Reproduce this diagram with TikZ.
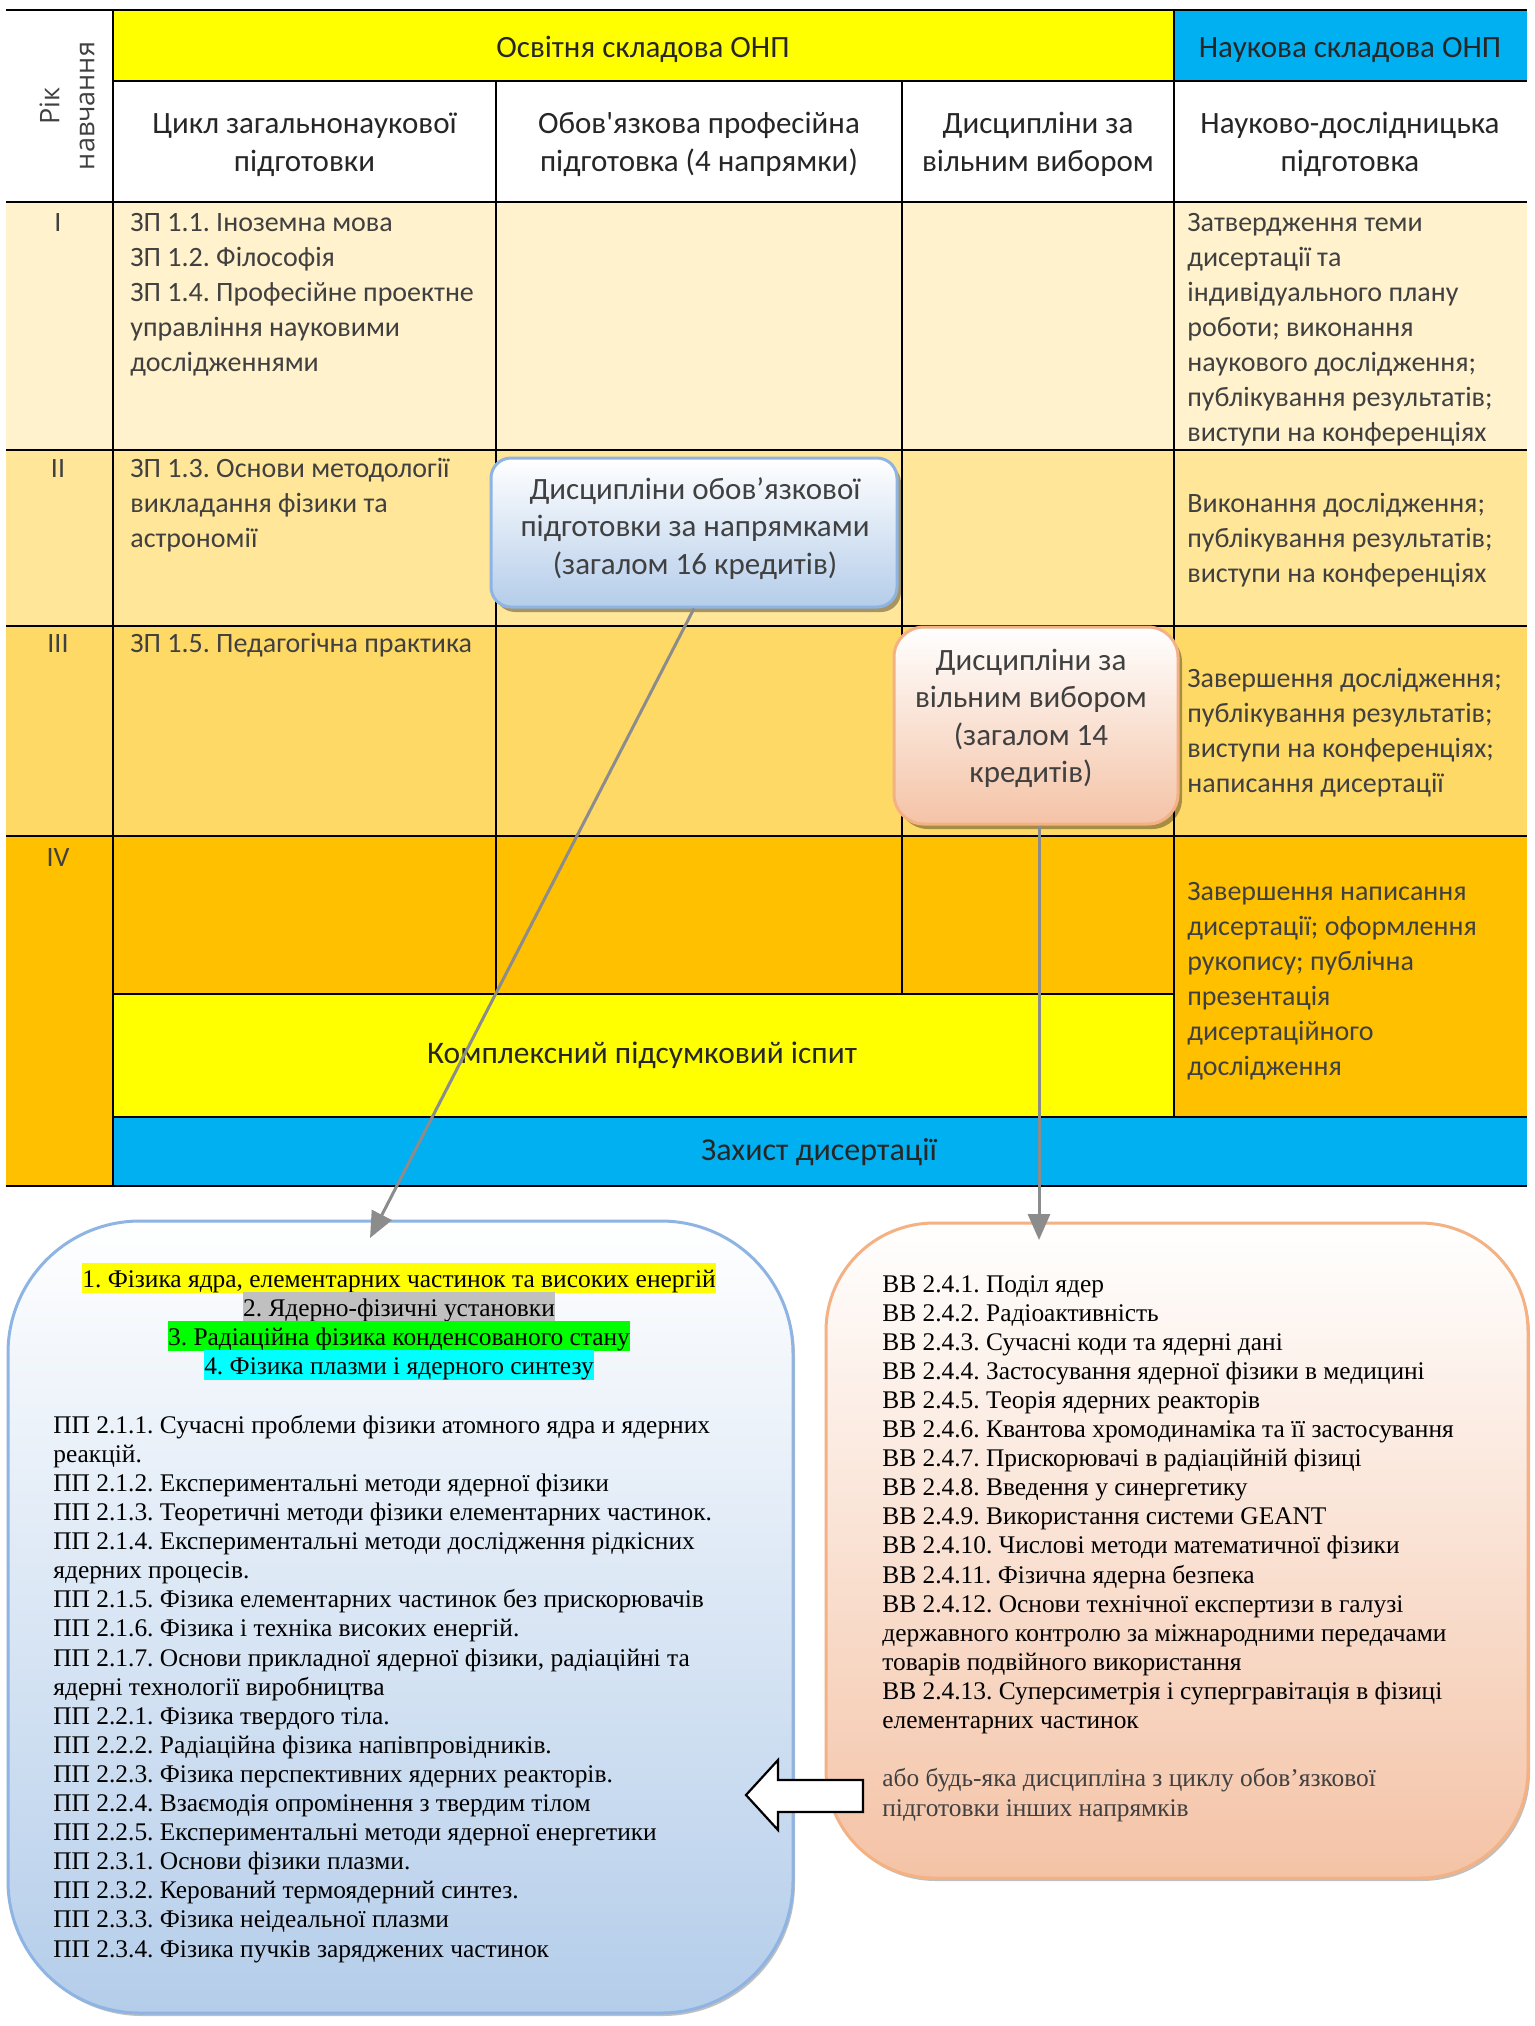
\documentclass[tikz,border=0pt]{standalone}
\usepackage{fontspec}
\setmainfont{Liberation Serif}
\newfontfamily\calfont{Carlito}[Ligatures=TeXOff]
\newfontfamily\osfont{Open Sans}
\usetikzlibrary{arrows.meta,shadows}
\frenchspacing
\definecolor{rowone}{HTML}{FFF2CC}
\definecolor{rowtwo}{HTML}{FFE699}
\definecolor{rowthree}{HTML}{FFD966}
\definecolor{rowfour}{HTML}{FFC000}
\definecolor{ylw}{HTML}{FFFF00}
\definecolor{skyb}{HTML}{00B0F0}
\definecolor{txtg}{HTML}{404040}
\definecolor{hdtxt}{HTML}{262626}
\definecolor{blueedge}{HTML}{8EB4E3}
\definecolor{bluebot}{HTML}{B4CDEA}
\definecolor{orgedge}{HTML}{F4B183}
\definecolor{orgbot}{HTML}{F4C3A6}
\definecolor{arrg}{HTML}{8C8C8C}
\definecolor{hlgray}{HTML}{C0C0C0}
\definecolor{hlgreen}{HTML}{00FF00}
\definecolor{hlcyan}{HTML}{00FFFF}
\begin{document}
\frenchspacing
\begin{tikzpicture}[x=0.5pt,y=-0.5pt,
  tline/.style={line width=1.25pt,black},
  bodytxt/.style={font=\calfont\fontsize{14pt}{17.5pt}\selectfont,text=txtg,align=left,anchor=base west,inner sep=0pt},
  headtxt/.style={font=\calfont\fontsize{15.5pt}{19.25pt}\selectfont,text=hdtxt,align=center,anchor=base,inner sep=0pt},
  romtxt/.style={font=\calfont\fontsize{14pt}{17pt}\selectfont,text=txtg,anchor=base,inner sep=0pt},
  calltxt/.style={font=\calfont\fontsize{15.5pt}{18.75pt}\selectfont,text=txtg,align=center,anchor=base,inner sep=0pt},
  serif/.style={font=\fontsize{12.7pt}{14.55pt}\selectfont,align=left,anchor=base west,inner sep=0pt},
  hl/.style={font=\fontsize{12.7pt}{14.55pt}\selectfont,anchor=base,inner xsep=0pt,inner ysep=0pt,text height=12pt,text depth=3pt},
  callblue/.style={draw=blueedge,line width=1.5pt,rounded corners=10pt,top color=white,bottom color=bluebot,
    drop shadow={shadow xshift=2pt,shadow yshift=-2.5pt,fill=black,opacity=0.35},inner sep=0pt},
  callorg/.style={draw=orgedge,line width=1.5pt,rounded corners=15pt,top color=white,bottom color=orgbot,
    drop shadow={shadow xshift=2pt,shadow yshift=-2.5pt,fill=black,opacity=0.35},inner sep=0pt},
  bigblue/.style={draw=blueedge,line width=1.5pt,rounded corners=66pt,top color=white,bottom color=bluebot,
    drop shadow={shadow xshift=1pt,shadow yshift=-1.5pt,fill=black,opacity=0.25},inner sep=0pt},
  bigorg/.style={draw=orgedge,line width=1.5pt,rounded corners=54pt,top color=white,bottom color=orgbot,
    drop shadow={shadow xshift=1pt,shadow yshift=-1.5pt,fill=black,opacity=0.25},inner sep=0pt},
  garrow/.style={draw=arrg,line width=1.5pt,-{Triangle[length=13pt,width=11pt]}}
]
\useasboundingbox (0,0) rectangle (1535,2026);
\fill[white] (0,0) rectangle (1535,2026);
% table fills
\fill[rowone] (6,202) rectangle (1527,450);
\fill[rowtwo] (6,450) rectangle (1527,626);
\fill[rowthree] (6,626) rectangle (1527,836);
\fill[rowfour] (6,836) rectangle (1527,1117);
\fill[rowfour] (6,1117) rectangle (113,1186);
\fill[ylw] (113,10) rectangle (1174,81);
\fill[skyb] (1174,10) rectangle (1527,81);
\fill[ylw] (113,994) rectangle (1174,1117);
\fill[skyb] (113,1117) rectangle (1527,1186);
% table lines
\draw[tline] (6,10) -- (1527,10);
\draw[tline] (113,81) -- (1527,81);
\draw[tline] (6,202) -- (1527,202);
\draw[tline] (6,450) -- (1527,450);
\draw[tline] (6,626) -- (1527,626);
\draw[tline] (6,836) -- (1527,836);
\draw[tline] (113,994) -- (1174,994);
\draw[tline] (113,1117) -- (1527,1117);
\draw[tline] (6,1186) -- (1527,1186);
\draw[tline] (113,10) -- (113,1186);
\draw[tline] (496,81) -- (496,994);
\draw[tline] (902,81) -- (902,994);
\draw[tline] (1174,10) -- (1174,1117);
% header texts
\node[font=\osfont\fontsize{13.5pt}{17.5pt}\selectfont,text=txtg,rotate=90,align=center,inner sep=0pt] (rik) at (67,106) {Рік\\навчання};
\node[headtxt] (osv) at (643,57) {Освітня складова ОНП};
\node[headtxt] (nauk) at (1350,57) {Наукова складова ОНП};
\node[headtxt] (hA) at (304.5,171.5) {Цикл загальнонаукової\\підготовки};
\node[headtxt] (hB) at (699,171.5) {Обов'язкова професійна\\підготовка (4 напрямки)};
\node[headtxt] (hC) at (1038,171.5) {Дисципліни за\\вільним вибором};
\node[headtxt] (hD) at (1350,171.5) {Науково-дослідницька\\підготовка};
% year numerals
\node[romtxt] (rI) at (58,231) {I};
\node[romtxt] (rII) at (58,477) {II};
\node[romtxt] (rIII) at (58,652) {III};
\node[romtxt] (rIV) at (58,866) {IV};
% body texts (anchor at baseline of last line)
\node[bodytxt] (cAI) at (130,371) {ЗП 1.1. Іноземна мова\\ЗП 1.2. Філософія\\ЗП 1.4. Професійне проектне\\управління науковими\\дослідженнями};
\node[bodytxt] (cDI) at (1187,441) {Затвердження теми\\дисертації та\\індивідуального плану\\роботи; виконання\\наукового дослідження;\\публікування результатів;\\виступи на конференціях};
\node[bodytxt] (cAII) at (130,547) {ЗП 1.3. Основи методології\\викладання фізики та\\астрономії};
\node[bodytxt] (cDII) at (1187,582) {Виконання дослідження;\\публікування результатів;\\виступи на конференціях};
\node[bodytxt] (cAIII) at (130,652) {ЗП 1.5. Педагогічна практика};
\node[bodytxt] (cDIII) at (1187,792) {Завершення дослідження;\\публікування результатів;\\виступи на конференціях;\\написання дисертації};
\node[bodytxt] (cDIV) at (1187,1075) {Завершення написання\\дисертації; оформлення\\рукопису; публічна\\презентація\\дисертаційного\\дослідження};
\node[font=\calfont\fontsize{15.7pt}{19pt}\selectfont,text=hdtxt,anchor=base,inner sep=0pt] (exam) at (642,1063) {Комплексний підсумковий іспит};
\node[font=\calfont\fontsize{16pt}{19pt}\selectfont,text=hdtxt,anchor=base,inner sep=0pt] (defense) at (819,1160) {Захист дисертації};
% callouts
\node[callblue,minimum width=203pt,minimum height=74.5pt] (call1) at (694,532.5) {};
\node[calltxt] (call1t) at (695,574) {Дисципліни обов’язкової\\підготовки за напрямками\\(загалом 16 кредитів)};
\node[callorg,minimum width=142pt,minimum height=98.5pt] (call2) at (1036,725.5) {};
\node[calltxt] (call2t) at (1031,782.5) {Дисципліни за\\вільним вибором\\(загалом 14\\кредитів)};
% bottom boxes
\node[bigblue,minimum width=392.5pt,minimum height=396pt] (lbox) at (400.5,1617) {};
\node[bigorg,minimum width=351pt,minimum height=327.5pt] (rbox) at (1177,1550.5) {};
\node[hl,fill=ylw] (d1) at (399,1287) {1. Фізика ядра, елементарних частинок та високих енергій};
\node[hl,fill=hlgray] (d2) at (399,1316) {2. Ядерно-фізичні установки};
\node[hl,fill=hlgreen] (d3) at (399,1345) {3. Радіаційна фізика конденсованого стану};
\node[hl,fill=hlcyan] (d4) at (399,1374) {4. Фізика плазми і ядерного синтезу};
\node[serif] (pplist) at (53,1957) {ПП 2.1.1. Сучасні проблеми фізики атомного ядра и ядерних\\реакцій.\\ПП 2.1.2. Експериментальні методи ядерної фізики\\ПП 2.1.3. Теоретичні методи фізики елементарних частинок.\\ПП 2.1.4. Експериментальні методи дослідження рідкісних\\ядерних процесів.\\ПП 2.1.5. Фізика елементарних частинок без прискорювачів\\ПП 2.1.6. Фізика і техніка високих енергій.\\ПП 2.1.7. Основи прикладної ядерної фізики, радіаційні та\\ядерні технології виробництва\\ПП 2.2.1. Фізика твердого тіла.\\ПП 2.2.2. Радіаційна фізика напівпровідників.\\ПП 2.2.3. Фізика перспективних ядерних реакторів.\\ПП 2.2.4. Взаємодія опромінення з твердим тілом\\ПП 2.2.5. Експериментальні методи ядерної енергетики\\ПП 2.3.1. Основи фізики плазми.\\ПП 2.3.2. Керований термоядерний синтез.\\ПП 2.3.3. Фізика неідеальної плазми\\ПП 2.3.4. Фізика пучків заряджених частинок};
\node[serif] (vvlist) at (882,1728.5) {ВВ 2.4.1. Поділ ядер\\ВВ 2.4.2. Радіоактивність\\ВВ 2.4.3. Сучасні коди та ядерні дані\\ВВ 2.4.4. Застосування ядерної фізики в медицині\\ВВ 2.4.5. Теорія ядерних реакторів\\ВВ 2.4.6. Квантова хромодинаміка та її застосування\\ВВ 2.4.7. Прискорювачі в радіаційній фізиці\\ВВ 2.4.8. Введення у синергетику\\ВВ 2.4.9. Використання системи GEANT\\ВВ 2.4.10. Числові методи математичної фізики\\ВВ 2.4.11. Фізична ядерна безпека\\ВВ 2.4.12. Основи технічної експертизи в галузі\\державного контролю за міжнародними передачами\\товарів подвійного використання\\ВВ 2.4.13. Суперсиметрія і супергравітація в фізиці\\елементарних частинок};
\node[serif,text=txtg] (other) at (882,1816) {або будь-яка дисципліна з циклу обов’язкової\\підготовки інших напрямків};
% block arrow
\draw[fill=white,draw=black,line width=1.1pt,line join=miter] (746,1795) -- (778,1760) -- (778,1780) -- (863,1780) -- (863,1812) -- (778,1812) -- (778,1830) -- cycle;
% connectors
\coordinate (a1end) at (370,1238);
\coordinate (a2end) at (1039,1240);
\draw[garrow] (call1.south) -- (a1end);
\draw[garrow] ([xshift=1.5pt]call2.south) -- ([xshift=1.5pt]call2.south |- a2end);
\end{tikzpicture}
\end{document}
